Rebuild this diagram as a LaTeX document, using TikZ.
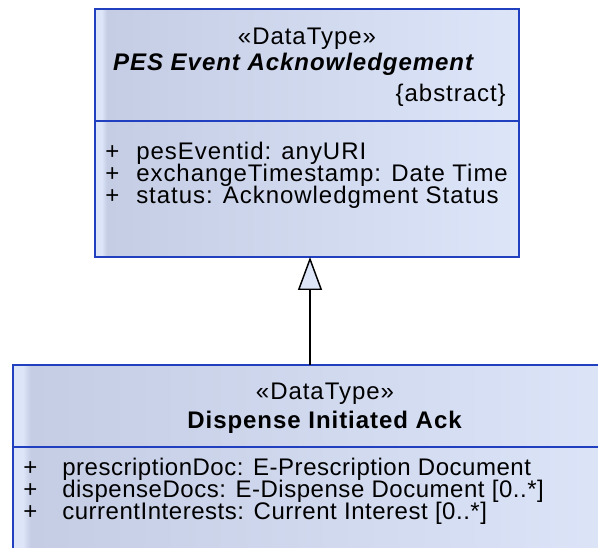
\documentclass[tikz,border=0pt]{standalone}
\usepackage{fontspec}
\setmainfont{Liberation Sans}[LetterSpace=4]
\usepackage{tikz}
\usetikzlibrary{arrows.meta}
\usetikzlibrary{calc,positioning}

\definecolor{classline}{RGB}{32,64,192}
\definecolor{classlight}{RGB}{221,229,249}
\definecolor{classdark}{RGB}{196,205,228}
\pgfdeclarehorizontalshading{classshade}{100bp}{color(0bp)=(classlight); color(25bp)=(classlight); color(25.8bp)=(classlight); color(26.4bp)=(classdark); color(75bp)=(classlight); color(100bp)=(classlight)}

\begin{document}
\begin{tikzpicture}[x=0.75pt, y=-0.75pt,
            classbox/.style={rectangle, draw=classline, line width=1.1pt, shading=classshade, inner sep=0pt, outer sep=0pt},
            classtext/.style={inner sep=0pt, anchor=base, font=\fontsize{18pt}{18pt}\selectfont},
            attr/.style={classtext, anchor=base west},
            tightattr/.style={attr, font=\fontsize{18pt}{18pt}\selectfont\addfontfeatures{LetterSpace=2.2}},
            generalization/.style={-{Triangle[width=18pt, length=24.75pt, fill=classlight]}, line width=1.1pt, black}]
    \useasboundingbox (0,0) rectangle (598,548);
    \clip (0,0) rectangle (598,548);

    % PES Event Acknowledgement
    \node (pesHead) [classbox, anchor=north west, minimum width=318pt, minimum height=84pt] at (95,9) {};
    \node (pesBody) [classbox, below=0pt of pesHead, minimum width=318pt, minimum height=102pt] {};
    \node (pesStereo) [classtext] at (307,45) {«DataType»};
    \node (pesName) [classtext] at (294,71) {\textbf{\textit{PES Event Acknowledgement}}};
    \node (pesAbstract) [classtext, anchor=base east] at (506,102) {\{abstract\}};
    \node (pesAttrA) [attr] at (105,160) {\makebox[23.25pt][l]{+}pesEventid: anyURI};
    \node (pesAttrB) [attr] at (105,182) {\makebox[23.25pt][l]{+}exchangeTimestamp: Date Time};
    \node (pesAttrC) [attr] at (105,204) {\makebox[23.25pt][l]{+}status: Acknowledgment Status};

    % Dispense Initiated Ack
    \node (dispHead) [classbox, anchor=north west, minimum width=470pt, minimum height=61.5pt] at (13,365) {};
    \node (dispBody) [classbox, below=0pt of dispHead, minimum width=470pt, minimum height=85pt] {};
    \node (dispStereo) [classtext] at (325,399) {«DataType»};
    \node (dispName) [classtext] at (325,428) {\textbf{Dispense Initiated Ack}};
    \node (dispAttrA) [tightattr] at (23,475) {\makebox[29.25pt][l]{+}prescriptionDoc: E-Prescription Document};
    \node (dispAttrB) [tightattr] at (23,497) {\makebox[29.25pt][l]{+}dispenseDocs: E-Dispense Document [0..*]};
    \node (dispAttrC) [tightattr] at (23,519) {\makebox[29.25pt][l]{+}currentInterests: Current Interest [0..*]};

    \draw [generalization] ($(dispHead.north -| pesBody.south)+(3,0)$) -- ($(pesBody.south)+(3,0)$);
\end{tikzpicture}
\end{document}
